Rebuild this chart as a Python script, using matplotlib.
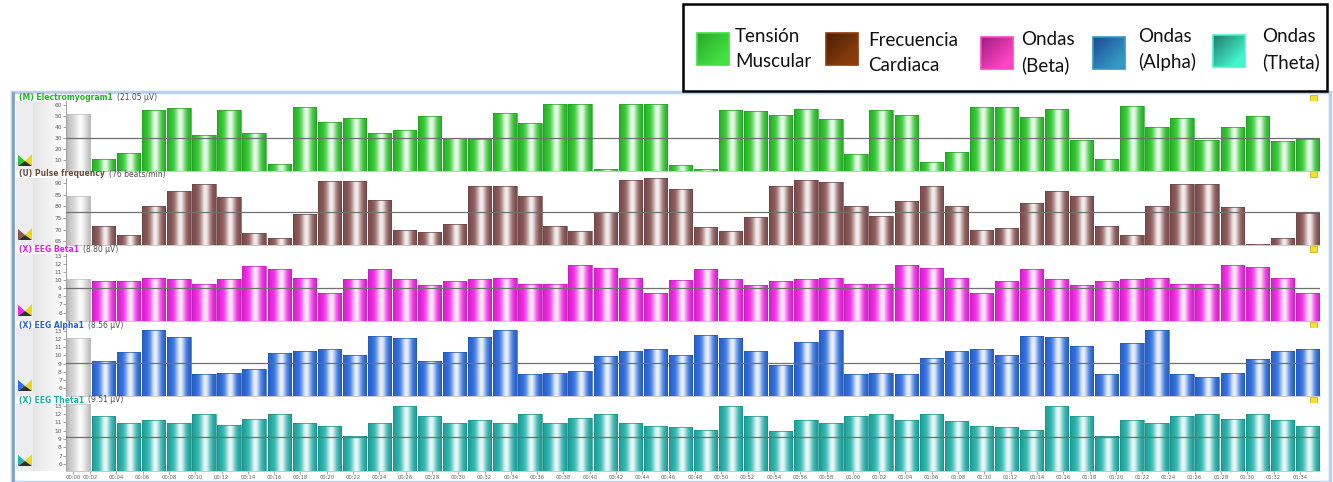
import numpy as np
import matplotlib
matplotlib.use("Agg")
import matplotlib.pyplot as plt
from matplotlib.patches import Rectangle, Polygon
from matplotlib.colors import to_rgb

W, H = 1333, 482

# values (49 samples per channel)
emg = [11, 16, 55, 57, 33, 55, 34, 6, 58, 44, 48, 34, 37, 50, 30, 29, 52, 43,
       61, 61, 2, 61, 61, 5, 2, 55, 54, 51, 56, 47, 15, 55, 51, 8, 17, 58, 58,
       49, 56, 28, 11, 59, 40, 48, 28, 40, 50, 27, 29]
pulse = [71.7, 67.8, 80, 86.7, 89.6, 84, 68.6, 66.4, 76.7, 91, 91, 82.6, 70,
         69, 72.5, 88.5, 88.5, 84.5, 71.7, 69.5, 77.5, 91.3, 92, 87.3, 71, 69.2,
         75.5, 88.8, 91.3, 90.5, 80, 75.9, 82.3, 88.8, 80, 70, 70.5, 81.5, 86.7,
         84.5, 71.7, 67.8, 80, 89.6, 89.6, 79.5, 63.8, 66.4, 77]
beta = [9.9, 9.9, 10.3, 10.2, 9.5, 10.2, 11.8, 11.4, 10.3, 8.4, 10.1, 11.4,
        10.1, 9.4, 9.9, 10.2, 10.3, 9.5, 9.5, 11.9, 11.5, 10.3, 8.4, 10.0, 11.4,
        10.1, 9.4, 9.9, 10.2, 10.3, 9.5, 9.5, 11.9, 11.5, 10.3, 8.4, 9.9, 11.4,
        10.1, 9.4, 9.9, 10.2, 10.3, 9.5, 9.5, 11.9, 11.6, 10.3, 8.4]
alpha = [9.3, 10.4, 13.1, 12.2, 7.7, 7.9, 8.4, 10.3, 10.5, 10.8, 10.0, 12.4,
         12.1, 9.3, 10.4, 12.2, 13.1, 7.7, 7.8, 8.1, 9.9, 10.5, 10.8, 10.0, 12.5,
         12.1, 10.5, 8.8, 11.7, 13.1, 7.7, 7.8, 7.7, 9.7, 10.5, 10.8, 10.0, 12.4,
         12.3, 11.1, 7.7, 11.5, 13.1, 7.7, 7.4, 7.8, 9.6, 10.5, 10.8]
theta = [11.7, 10.9, 11.3, 10.9, 12.0, 10.7, 11.4, 12.0, 10.9, 10.5, 9.3, 10.9,
         13.0, 11.7, 10.9, 11.3, 10.9, 12.0, 10.9, 11.5, 12.0, 10.9, 10.6, 10.4,
         10.1, 13.0, 11.7, 10.0, 11.3, 10.9, 11.7, 12.0, 11.3, 12.0, 11.1, 10.6,
         10.4, 10.1, 13.0, 11.7, 9.3, 11.3, 10.9, 11.7, 12.0, 11.4, 12.0, 11.3,
         10.6]

series = [emg, pulse, beta, alpha, theta]
reference_bar = [51.5, 84.3, 10.1, 12.1, 13.2]
threshold = [30, 77.5, 9.1, 9.1, 9.2]

names = ["(M) Electromyogram1", "(U) Pulse frequency", "(X) EEG Beta1",
         "(X) EEG Alpha1", "(X) EEG Theta1"]
readouts = ["(21.05 \u00b5V)", "(76 beats/min)", "(8.80 \u00b5V)",
            "(8.56 \u00b5V)", "(9.51 \u00b5V)"]
legend_labels = ["Tensión\nMuscular", "Frecuencia\nCardiaca", "Ondas\n(Beta)",
                 "Ondas\n(Alpha)", "Ondas\n(Theta)"]
time_labels = ["00:00", "00:02", "00:04", "00:06", "00:08", "00:10", "00:12",
               "00:14", "00:16", "00:18", "00:20", "00:22", "00:24", "00:26",
               "00:28", "00:30", "00:32", "00:34", "00:36", "00:38", "00:40",
               "00:42", "00:44", "00:46", "00:48", "00:50", "00:52", "00:54",
               "00:56", "00:58", "01:00", "01:02", "01:04", "01:06", "01:08",
               "01:10", "01:12", "01:14", "01:16", "01:18", "01:20", "01:22",
               "01:24", "01:26", "01:28", "01:30", "01:32", "01:34"]

bar_colors = ["#2ec82e", "#8a5656", "#f428e8", "#2e6ee0", "#26b4ae"]
title_colors = ["#22b422", "#6e4a40", "#e020e0", "#2a62d0", "#20aaa6"]
legend_colors = [("#2aa82a", "#44e044"), ("#4a2008", "#8c3c0c"),
                 ("#a01e80", "#ff44c4"), ("#1e4c96", "#3498c4"),
                 ("#1e7e6c", "#44f4cc")]

# panel geometry in pixels: (top, bottom, ymin, ymax, yticks)
panels = [(101, 171, 0, 63.3, range(10, 61, 10)),
          (178, 245, 63.4, 92.1, range(65, 91, 5)),
          (254, 321, 4.95, 13.25, range(6, 14)),
          (328, 396, 5.05, 13.35, range(6, 14)),
          (403, 471, 5.15, 13.3, range(6, 14))]
title_y = [98, 174, 249.5, 325, 400]
X0, X1 = 66, 1320

fig = plt.figure(figsize=(W / 100, H / 100), dpi=100)
fig.patch.set_facecolor("white")

bg = fig.add_axes([0, 0, 1, 1], zorder=0)
bg.set_xlim(0, W)
bg.set_ylim(H, 0)
bg.axis("off")


def shade(base, light=0.9, center=0.56, spread=0.2, n=64):
    u = np.linspace(0, 1, n)
    c = np.array(to_rgb(base))
    dark = 1 - 0.15 * np.abs(2 * u - 1) ** 3
    w = light * np.exp(-((u - center) / spread) ** 2)
    rgb = c[None, :] * dark[:, None]
    rgb = rgb * (1 - w[:, None]) + w[:, None]
    return rgb[None, :, :]


def shaded_bars(ax, x, vals, bottom, color, edge):
    bars = ax.bar(x, np.array(vals) - bottom, bottom=bottom, width=0.93,
                  facecolor="none", edgecolor=edge, linewidth=0.5, zorder=3)
    grad = shade(color)
    for p in bars:
        x0, y0 = p.get_x(), p.get_y()
        im = ax.imshow(grad, extent=(x0, x0 + p.get_width(), y0, y0 + p.get_height()),
                       aspect="auto", interpolation="bilinear", zorder=2)
        im.set_clip_path(p)


# window frame
bg.add_patch(Rectangle((12, 92), 1318, 390, facecolor="none", edgecolor="#b9d1ea", lw=2.5))
bg.plot([13, 13], [93, 482], color="#7f9fc8", lw=2)

n = len(emg)
xs = np.arange(1, n + 1) + 0.5
renderer = fig.canvas.get_renderer()

for i, (top, bot, lo, hi, yt) in enumerate(panels):
    # grey side strips
    bg.add_patch(Rectangle((16, top), 17, bot - top, facecolor="#ededed", lw=0))
    strip = np.linspace(0.9, 0.99, 32)[None, :, None] * np.ones((1, 1, 3))
    bg.imshow(strip, extent=(33, 63, bot, top), aspect="auto", zorder=1)
    # little channel icon
    cy = bot - 10
    bg.add_patch(Polygon([(18, cy - 6), (25, cy), (18, cy + 5)], closed=True,
                         facecolor=bar_colors[i], lw=0, zorder=2))
    bg.add_patch(Polygon([(32, cy - 7), (25, cy), (32, cy + 5)], closed=True,
                         facecolor="#e8d820", lw=0, zorder=2))
    bg.add_patch(Polygon([(18, cy + 5), (25, cy), (32, cy + 5)], closed=True,
                         facecolor="#303030", lw=0, zorder=2))
    # alarm square
    bg.add_patch(Rectangle((1310, title_y[i] - 3.5), 7, 6, facecolor="#f4e030",
                           edgecolor="#c8a800", lw=0.5, zorder=2))

    ax = fig.add_axes([X0 / W, 1 - bot / H, (X1 - X0) / W, (bot - top) / H], zorder=1)
    ax.set_facecolor("white")
    shaded_bars(ax, [0.5], [reference_bar[i]], lo, "#d6d6d6", "#c0c0c0")
    shaded_bars(ax, xs, series[i], lo, bar_colors[i],
                tuple(0.8 * np.array(to_rgb(bar_colors[i]))))
    ax.axhline(threshold[i], color="#707070", lw=0.9, zorder=4)
    ax.set_xlim(0, n + 1)
    ax.set_ylim(lo, hi)
    ax.set_yticks(list(yt))
    ax.tick_params(axis="y", length=2, width=0.5, pad=1, labelsize=4.2,
                   labelcolor="#606060", color="#808080")
    for s in ["top", "right"]:
        ax.spines[s].set_visible(False)
    ax.spines["left"].set_color("#909090")
    ax.spines["bottom"].set_color("#c0c0c0")
    ax.spines["left"].set_linewidth(0.6)
    ax.spines["bottom"].set_linewidth(0.6)
    if i < 4:
        ax.set_xticks([])
    else:
        ticks = [0.28] + list(np.linspace(0.96, 49.2, len(time_labels) - 1))
        ax.set_xticks(ticks)
        ax.set_xticklabels(time_labels)
        ax.tick_params(axis="x", length=2, width=0.5, pad=1, labelsize=3.8,
                       labelcolor="#606060", color="#808080")

    # panel headings drawn above the panel axes
    t = fig.text(19, title_y[i], names[i], color=title_colors[i], fontsize=5.5,
                 fontweight="bold", va="center", ha="left", family="DejaVu Sans",
                 transform=bg.transData, zorder=5)
    ext = t.get_window_extent(renderer)
    fig.text(ext.x1 + 4, title_y[i], readouts[i], color="#505050", fontsize=5.5,
             va="center", ha="left", family="DejaVu Sans",
             transform=bg.transData, zorder=5)

# legend box
bg.add_patch(Rectangle((683, 4), 644, 87, facecolor="white", edgecolor="black",
                       lw=1.8, zorder=5))
sq = [(697, 33), (826, 33), (981, 37), (1093, 37), (1213, 35)]
tx = [(735, 37), (868, 41), (1021, 40), (1138, 37), (1262, 37)]
for (x, y), (lx, ly), (dk, lt), lab in zip(sq, tx, legend_colors, legend_labels):
    g = np.linspace(0, 1, 24)
    gg = np.clip(np.add.outer(g, g) / 1.6, 0, 1)
    rgb = (np.array(to_rgb(dk))[None, None, :] * (1 - gg[..., None])
           + np.array(to_rgb(lt))[None, None, :] * gg[..., None])
    bg.imshow(rgb, extent=(x, x + 32, y + 32, y), aspect="auto", zorder=6,
              interpolation="bilinear")
    bg.add_patch(Rectangle((x, y), 32, 32, facecolor="none", edgecolor=lt,
                           lw=1.2, zorder=7))
    bg.text(lx, ly - 9, lab, fontsize=13.5, family="Lato", va="top", ha="left",
            linespacing=1.55, zorder=7, color="#111111")

bg.set_xlim(0, W)
bg.set_ylim(H, 0)
fig.savefig("out.png", dpi=100)
